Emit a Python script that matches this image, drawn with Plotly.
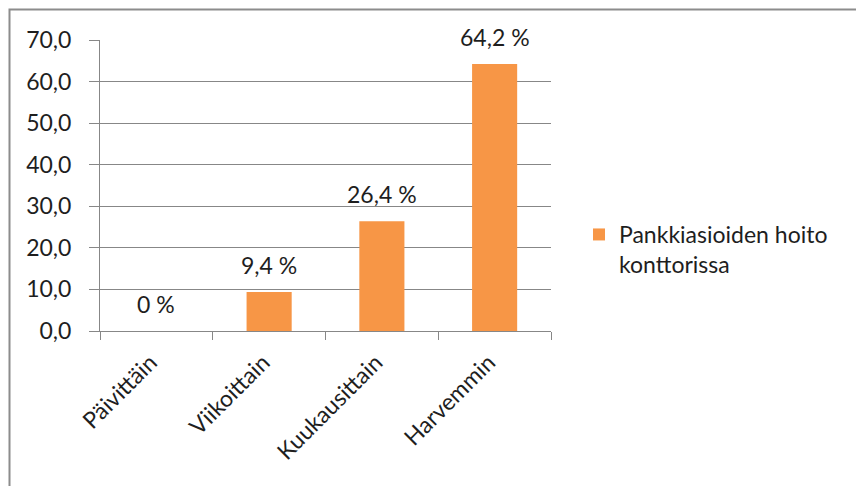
import plotly.graph_objects as go

# Survey: how often banking is done at a branch office
categories = ["Päivittäin", "Viikoittain", "Kuukausittain", "Harvemmin"]
values = [0, 9.4, 26.4, 64.2]
series_name = "Pankkiasioiden hoito<br>konttorissa"
y_ticks = [0, 10, 20, 30, 40, 50, 60, 70]

W, H = 856, 486
L, R, T, B = 100, 305, 40, 155
plot_w = W - L - R
plot_h = H - T - B

FONT = "Lato, Carlito, 'Open Sans', sans-serif"
FS = 23
TEXT = "#1e1e1e"
GRID = "#878787"
ORANGE = "#F79646"

labels = [f"{v:g}".replace(".", ",") + " %" for v in values]

fig = go.Figure()
fig.add_trace(go.Bar(
    x=categories,
    y=values,
    name=series_name,
    marker=dict(color=ORANGE, line=dict(width=0)),
    showlegend=True,
))

# value labels above each bar
for cat, val, lab in zip(categories, values, labels):
    fig.add_annotation(
        x=cat, y=val, text=lab,
        xref="x", yref="y",
        showarrow=False,
        yanchor="bottom",
        yshift=11,
        font=dict(family=FONT, size=FS, color=TEXT),
    )


def px_to_paper_x(px):
    return (px - L) / plot_w


def px_to_paper_y(py):
    return (H - B - py) / plot_h


# outer chart frame (left and top edges)
x0 = px_to_paper_x(9.5)
y0 = px_to_paper_y(9.5)
fig.add_shape(
    type="path",
    xref="paper", yref="paper",
    path=f"M {x0},{px_to_paper_y(H + 5)} L {x0},{y0} L {px_to_paper_x(W + 5)},{y0}",
    line=dict(color="#8C8C8C", width=2),
)

fig.update_layout(
    width=W, height=H,
    margin=dict(l=L, r=R, t=T, b=B, pad=0),
    paper_bgcolor="white",
    plot_bgcolor="white",
    separators=", ",
    bargap=0.6,
    font=dict(family=FONT, size=FS, color=TEXT),
    legend=dict(
        x=px_to_paper_x(579), y=px_to_paper_y(213),
        xanchor="left", yanchor="top",
        valign="top",
        font=dict(family=FONT, size=FS, color=TEXT),
        bgcolor="rgba(0,0,0,0)",
    ),
    xaxis=dict(
        type="category",
        showline=True, linecolor=GRID, linewidth=1,
        ticks="outside", tickson="boundaries", ticklen=8, tickcolor=GRID,
        tickangle=-45,
        tickfont=dict(family=FONT, size=FS, color=TEXT),
        ticklabelshift=-6,
        ticklabelstandoff=8,
        showgrid=False,
    ),
    yaxis=dict(
        range=[0, 70],
        tickvals=y_ticks,
        tickformat=".1f",
        showline=True, linecolor=GRID, linewidth=1,
        ticks="outside", ticklen=10, tickcolor=GRID,
        showgrid=True, gridcolor=GRID, gridwidth=1,
        zeroline=False,
        tickfont=dict(family=FONT, size=FS, color=TEXT),
        ticklabelstandoff=13,
    ),
)

fig.write_html("out.html")
